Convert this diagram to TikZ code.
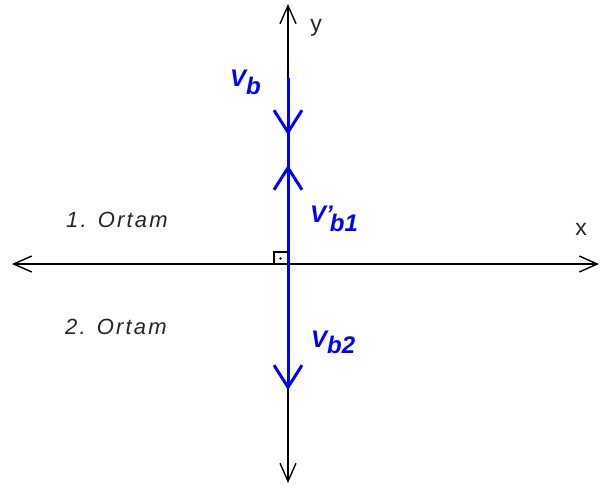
\documentclass[tikz,border=0pt]{standalone}
\usepackage{fontspec}
\setmainfont{Liberation Sans}
\usetikzlibrary{arrows.meta}
\definecolor{vblue}{RGB}{0,0,255}
\tikzset{
  axis/.style={line width=1.4pt, black, -{Straight Barb[length=18pt,width=16pt]}},
  vec/.style={line width=3pt, vblue, -{Straight Barb[length=22pt,width=28pt]}},
  vline/.style={line width=3pt, vblue},
  lbl/.style={font=\addfontfeature{LetterSpace=10}\fontsize{22}{24}\selectfont\itshape, text=black!85, inner sep=0pt, anchor=base west},
  axlbl/.style={font=\fontsize{23}{25}\selectfont, text=black!85},
  vlbl/.style={font=\fontsize{24}{26}\selectfont\bfseries\itshape, text=vblue, inner sep=0pt, anchor=base west}
}
\newcommand{\subl}[2][-7pt]{\raisebox{#1}{#2}}
\begin{document}
\begin{tikzpicture}[x=1pt,y=-1pt]
\useasboundingbox (0,0) rectangle (601,490);
\coordinate (O) at (288,264);
\coordinate (ytop) at (288,4);
\coordinate (ybot) at (288,483);
\coordinate (xl) at (12,264);
\coordinate (xr) at (599,264);
\coordinate (vbs) at (288,78);
\coordinate (vbt) at (288,135);
\coordinate (vb1t) at (288,165);
\coordinate (vb2t) at (288,390);
% axes
\draw[axis] (O) -- (ytop);
\draw[axis] (O) -- (ybot);
\draw[axis] (O) -- (xl);
\draw[axis] (O) -- (xr);
% blue vectors
\draw[vline] (vbs) -- (O);
\draw[vec] (vbs) -- (vbt);
\draw[vec] (O) -- (vb1t);
\draw[vec] (O) -- (vb2t);
% right angle
\draw[line width=1.2pt] (274,264) -- (274,252) -- (288,252);
\fill (280.5,258.5) circle (1.4pt);
% labels
\node[axlbl] (ly) at (316,28) {y};
\node[axlbl] (lx) at (581,229) {x};
\node[lbl] (o1) at (66,227) {1. Ortam};
\node[lbl] (o2) at (65,334) {2. Ortam};
\node[vlbl] (lvb) at (230,86) {V\subl[-8pt]{b}};
\node[vlbl] (lvb1) at (310,222) {V'\kern-3pt\subl[-9pt]{b1}};
\node[vlbl] (lvb2) at (311,347) {V\subl[-6pt]{b2}};
\end{tikzpicture}
\end{document}
